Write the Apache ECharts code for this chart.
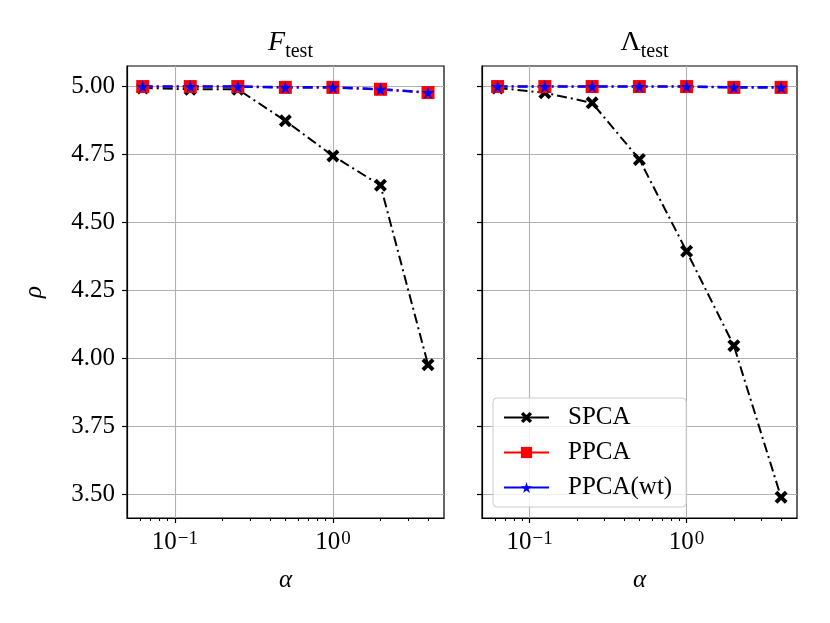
<!DOCTYPE html>
<html lang="en">
<head>
    <meta charset="UTF-8">
    <title>rho vs alpha</title>
    <script type="text/javascript" src="https://cdn.jsdelivr.net/npm/echarts@6.0.0/dist/echarts.min.js"></script>
    <style>
        html, body { margin: 0; padding: 0; background: #fff; }
        #chart { width: 830px; height: 623px; }
    </style>
</head>
<body>
    <div id="chart"></div>
</body>
<script>
    // data
    var alpha = [0.0625, 0.125, 0.25, 0.5, 1, 2, 4];
    var spcaF = [4.995, 4.99, 4.99, 4.874, 4.745, 4.637, 3.977];
    var ppcaF = [5.0, 5.0, 5.0, 4.997, 4.997, 4.99, 4.978];
    var ppcaWtF = [5.0, 5.0, 5.0, 4.997, 4.997, 4.99, 4.978];
    var spcaL = [4.995, 4.977, 4.94, 4.732, 4.394, 4.047, 3.489];
    var ppcaL = [5.0, 5.0, 5.0, 5.0, 5.0, 4.997, 4.997];
    var ppcaWtL = [5.0, 5.0, 5.0, 5.0, 5.0, 4.997, 4.997];
    var yTicks = [3.5, 3.75, 4.0, 4.25, 4.5, 4.75, 5.0];
    var xMajor = [0.1, 1];
    var xMinor = [0.06, 0.07, 0.08, 0.09, 0.2, 0.3, 0.4, 0.5, 0.6, 0.7, 0.8, 0.9, 2, 3, 4];

    var FONT = '"Liberation Serif", "DejaVu Serif", serif';
    // thick filled X like matplotlib 'X'
    var xSym = 'path://M0,3 L3,0 L7,4 L11,0 L14,3 L10,7 L14,11 L11,14 L7,10 L3,14 L0,11 L4,7 Z';
    var starSym = 'path://M50,0 L61,35 L98,35 L68,57 L79,91 L50,70 L21,91 L32,57 L2,35 L39,35 Z';
    var dashDot = [10, 4, 2, 4];

    function pairs(ys) {
        return alpha.map(function (a, i) { return [a, ys[i]]; });
    }

    var grids = [
        { left: 127, right: 386, top: 66, bottom: 105 },
        { left: 482, right: 33, top: 66, bottom: 105 }
    ];

    var xAxes = [];
    var yAxes = [];
    grids.forEach(function (g, i) {
        // major ticks + labels
        xAxes.push({
            type: 'log', gridIndex: i, position: 'bottom',
            min: 0.0497, max: 5.05,
            name: 'α', nameLocation: 'middle', nameGap: 50,
            nameTextStyle: { fontFamily: FONT, fontSize: 25, fontStyle: 'italic', color: '#000' },
            axisLine: { show: true, lineStyle: { color: '#000', width: 1.2 } },
            axisTick: { show: true, customValues: xMajor, length: 5, lineStyle: { color: '#000', width: 1.2 } },
            axisLabel: {
                customValues: xMajor, margin: 12, color: '#000',
                formatter: function (v) {
                    var e = Math.round(Math.log10(v));
                    return '{b|10}{s|' + (e < 0 ? '\u2212' + (-e) : e) + '}';
                },
                rich: {
                    b: { fontFamily: FONT, fontSize: 25, color: '#000' },
                    s: { fontFamily: FONT, fontSize: 19, color: '#000', verticalAlign: 'top', padding: [0, 0, 4, 1] }
                }
            },
            splitLine: { show: true, lineStyle: { color: '#b0b0b0', width: 1.1 } }
        });
        // minor ticks
        xAxes.push({
            type: 'log', gridIndex: i, position: 'bottom', offset: 0,
            min: 0.0497, max: 5.05,
            axisLine: { show: false },
            axisTick: { show: true, customValues: xMinor, length: 3, lineStyle: { color: '#000', width: 1 } },
            axisLabel: { show: false },
            splitLine: { show: false }
        });
        yAxes.push({
            type: 'value', gridIndex: i,
            min: 3.413, max: 5.0756,
            name: i === 0 ? 'ρ' : '', nameLocation: 'middle', nameGap: 80,
            nameTextStyle: { fontFamily: FONT, fontSize: 25, fontStyle: 'italic', color: '#000' },
            axisLine: { show: true, lineStyle: { color: '#000', width: 1.2 } },
            axisTick: { show: true, customValues: yTicks, length: 5, lineStyle: { color: '#000', width: 1.2 } },
            axisLabel: {
                show: i === 0, customValues: yTicks, margin: 12,
                fontFamily: FONT, fontSize: 25, color: '#000',
                formatter: function (v) { return v.toFixed(2); }
            },
            splitLine: { show: true, lineStyle: { color: '#b0b0b0', width: 1.1 } }
        });
    });

    function spcaSeries(idx, ys) {
        return {
            name: 'SPCA', type: 'line', xAxisIndex: idx * 2, yAxisIndex: idx,
            data: pairs(ys), symbol: xSym, symbolSize: 13,
            itemStyle: { color: '#000' },
            lineStyle: { color: '#000', width: 2, type: dashDot }
        };
    }
    function ppcaSeries(idx, ys) {
        return {
            name: 'PPCA', type: 'line', xAxisIndex: idx * 2, yAxisIndex: idx,
            data: pairs(ys), symbol: 'rect', symbolSize: 13,
            itemStyle: { color: '#ff0000' },
            lineStyle: { color: '#ff0000', width: 2, type: dashDot }
        };
    }
    function ppcaWtSeries(idx, ys) {
        return {
            name: 'PPCA(wt)', type: 'line', xAxisIndex: idx * 2, yAxisIndex: idx,
            data: pairs(ys), symbol: starSym, symbolSize: 13,
            itemStyle: { color: '#0000ff' },
            lineStyle: { color: '#0000ff', width: 2.6, type: dashDot }
        };
    }

    var myChart = echarts.init(document.getElementById('chart'));
    var option = {
        backgroundColor: '#fff',
        animation: false,
        title: [{
            text: '{i|F}{s|test}', left: 285.5, top: 24, textAlign: 'center',
            textStyle: {
                rich: {
                    i: { fontFamily: FONT, fontSize: 28, fontStyle: 'italic', fontWeight: 'normal', color: '#000' },
                    s: { fontFamily: FONT, fontSize: 20, fontWeight: 'normal', color: '#000', verticalAlign: 'bottom', padding: [0, 0, -5, 0] }
                }
            }
        }, {
            text: '{i|Λ}{s|test}', left: 639.5, top: 24, textAlign: 'center',
            textStyle: {
                rich: {
                    i: { fontFamily: FONT, fontSize: 28, fontWeight: 'normal', color: '#000' },
                    s: { fontFamily: FONT, fontSize: 20, fontWeight: 'normal', color: '#000', verticalAlign: 'bottom', padding: [0, 0, -5, 0] }
                }
            }
        }],
        legend: {
            data: ['SPCA', 'PPCA', 'PPCA(wt)'],
            orient: 'vertical', left: 493, top: 398,
            padding: [7, 14, 7, 10], itemGap: 10,
            itemWidth: 45, itemHeight: 14,
            backgroundColor: 'rgba(255,255,255,0.8)',
            borderColor: '#cccccc', borderWidth: 1, borderRadius: 4,
            lineStyle: { type: 'solid' },
            textStyle: { fontFamily: FONT, fontSize: 25, color: '#000', padding: [0, 0, 0, 14] }
        },
        grid: grids.map(function (g) {
            return Object.assign({ show: true, borderColor: '#000', borderWidth: 1.2, backgroundColor: 'transparent' }, g);
        }),
        xAxis: xAxes,
        yAxis: yAxes,
        series: [
            spcaSeries(0, spcaF), ppcaSeries(0, ppcaF), ppcaWtSeries(0, ppcaWtF),
            spcaSeries(1, spcaL), ppcaSeries(1, ppcaL), ppcaWtSeries(1, ppcaWtL)
        ]
    };
    myChart.setOption(option, true);
</script>
</html>
